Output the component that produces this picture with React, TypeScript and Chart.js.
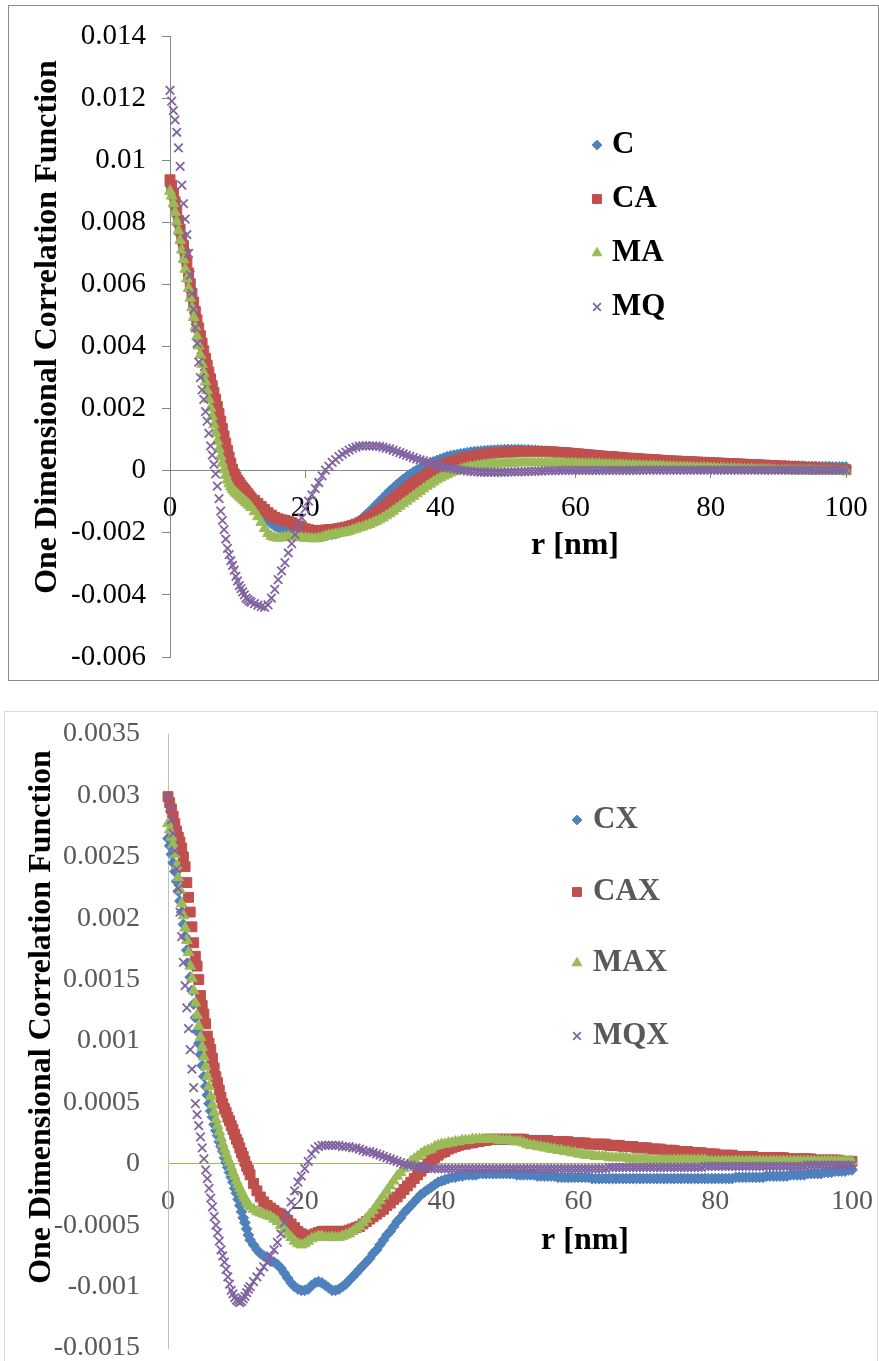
import React, { useEffect, useRef } from 'react';
import { Chart, registerables, PointElement } from 'chart.js';

Chart.register(...registerables);

const SERIF = '"Liberation Serif", "Times New Roman", Times, serif';

// r [nm] sampling positions (shared by every series)
const R = [
  0, .25, .5, .75, 1, 1.25, 1.5, 1.75, 2, 2.25,
  2.5, 2.75, 3, 3.25, 3.5, 3.75, 4, 4.25, 4.5, 4.75,
  5, 5.25, 5.5, 5.75, 6, 6.25, 6.5, 6.75, 7, 7.25,
  7.5, 7.75, 8, 8.25, 8.5, 8.75, 9, 9.25, 9.5, 9.75,
  10, 10.25, 10.5, 10.75, 11, 11.25, 11.5, 11.75, 12,
  12.5, 13, 13.5, 14, 14.5, 15, 15.5, 16, 16.5, 17,
  17.5, 18, 18.5, 19, 19.5, 20, 20.5, 21, 21.5, 22,
  22.5, 23, 23.5, 24, 24.5, 25, 25.5, 26, 26.5, 27,
  27.5, 28, 28.5, 29, 29.5, 30, 30.5, 31, 31.5, 32,
  32.5, 33, 33.5, 34, 34.5, 35, 35.5, 36, 36.5, 37,
  37.5, 38, 38.5, 39, 39.5, 40, 40.5, 41, 41.5, 42,
  42.5, 43, 43.5, 44, 44.5, 45, 45.5, 46, 46.5, 47,
  47.5, 48, 48.5, 49, 49.5, 50, 50.5, 51, 51.5, 52,
  52.5, 53, 53.5, 54, 54.5, 55, 55.5, 56, 56.5, 57,
  57.5, 58, 58.5, 59, 59.5, 60, 60.5, 61, 61.5, 62,
  62.5, 63, 63.5, 64, 64.5, 65, 65.5, 66, 66.5, 67,
  67.5, 68, 68.5, 69, 69.5, 70, 70.5, 71, 71.5, 72,
  72.5, 73, 73.5, 74, 74.5, 75, 75.5, 76, 76.5, 77,
  77.5, 78, 78.5, 79, 79.5, 80, 80.5, 81, 81.5, 82,
  82.5, 83, 83.5, 84, 84.5, 85, 85.5, 86, 86.5, 87,
  87.5, 88, 88.5, 89, 89.5, 90, 90.5, 91, 91.5, 92,
  92.5, 93, 93.5, 94, 94.5, 95, 95.5, 96, 96.5, 97,
  97.5, 98, 98.5, 99, 99.5, 100,
];

// ---------- top chart series ----------
const topC = [
  .00918, .00903, .00877, .00849, .00821, .0079, .0076, .00732, .00703, .00674,
  .00645, .00612, .00579, .0055, .0052, .00486, .00458, .00431, .00404, .00377,
  .0035, .00324, .00299, .00274, .00249, .00225, .002, .00176, .00151, .00127,
  .00103, .0008, .00058, .0004, .00024, .0001, -.00003, -.00014, -.00024, -.00033,
  -.00041, -.00049, -.00056, -.00063, -.0007, -.00077, -.00084, -.00091, -.00098,
  -.00111, -.00124, -.00137, -.00149, -.0016, -.0017, -.00178, -.00184, -.00188, -.00191,
  -.00193, -.00194, -.00195, -.00196, -.00198, -.002, -.00202, -.00204, -.00205, -.00206,
  -.00206, -.00206, -.00206, -.00205, -.00203, -.002, -.00196, -.00191, -.00185, -.00178,
  -.0017, -.00161, -.00152, -.00142, -.00132, -.00121, -.0011, -.00099, -.00088, -.00077,
  -.00066, -.00056, -.00046, -.00037, -.00028, -.0002, -.00012, -.00005, .00002, .00008,
  .00014, .00019, .00024, .00029, .00033, .00037, .00041, .00045, .00048, .0005,
  .00052, .00054, .00056, .00058, .0006, .00061, .00062, .00063, .00064, .00065,
  .00066, .00066, .00067, .00067, .00068, .00068, .00068, .00068, .00068, .00068,
  .00067, .00067, .00066, .00066, .00065, .00064, .00063, .00062, .00061, .00059,
  .00058, .00056, .00054, .00052, .0005, .00048, .00046, .00044, .00043, .00041,
  .0004, .00039, .00038, .00037, .00036, .00035, .00035, .00034, .00034, .00033,
  .00033, .00032, .00031, .00031, .0003, .0003, .00029, .00029, .00028, .00028,
  .00027, .00027, .00027, .00026, .00026, .00026, .00025, .00025, .00025, .00024,
  .00024, .00024, .00023, .00023, .00023, .00022, .00022, .00022, .00021, .00021,
  .00021, .0002, .0002, .0002, .0002, .00019, .00019, .00019, .00018, .00018,
  .00018, .00017, .00017, .00017, .00017, .00016, .00016, .00016, .00016, .00015,
  .00015, .00015, .00015, .00014, .00014, .00014, .00014, .00013, .00013, .00013,
  .00013, .00012, .00012, .00012, .00012, .00012,
];
const topCA = [
  .00937, .0092, .00893, .00866, .00838, .00806, .00778, .00752, .00725, .00698,
  .00671, .00637, .00602, .00572, .00543, .00513, .00486, .0046, .00435, .00411,
  .00386, .00362, .0034, .00318, .00296, .00274, .00252, .0023, .00207, .00184,
  .0016, .00136, .00112, .00089, .00066, .00044, .00024, .00005, -.0001, -.0002,
  -.0003, -.00038, -.00046, -.00054, -.0006, -.00067, -.00074, -.00081, -.00088,
  -.00095, -.00105, -.00115, -.00125, -.00135, -.00143, -.0015, -.00155, -.00158, -.0016,
  -.00163, -.00167, -.00172, -.00178, -.00183, -.00187, -.0019, -.00192, -.00193, -.00193,
  -.00192, -.00191, -.0019, -.0019, -.00188, -.00186, -.00184, -.00182, -.00179, -.00176,
  -.00172, -.00168, -.00163, -.00157, -.00151, -.00144, -.00136, -.00128, -.0012, -.00111,
  -.00102, -.00093, -.00084, -.00075, -.00067, -.00058, -.00049, -.00041, -.00034, -.00028,
  -.0002, -.00013, -.00006, .00001, .00007, .00013, .00018, .00023, .00027, .00031,
  .00034, .00037, .0004, .00042, .00045, .00047, .00049, .00051, .00053, .00054,
  .00056, .00057, .00058, .00059, .00059, .0006, .0006, .00061, .00061, .00062,
  .00062, .00062, .00062, .00062, .00062, .00062, .00062, .00061, .00061, .0006,
  .00059, .00058, .00058, .00057, .00056, .00055, .00054, .00053, .00052, .00051,
  .0005, .00049, .00048, .00047, .00046, .00045, .00045, .00044, .00043, .00042,
  .00041, .0004, .0004, .00039, .00038, .00037, .00037, .00036, .00036, .00035,
  .00034, .00033, .00032, .00032, .00031, .00031, .0003, .0003, .00029, .00029,
  .00028, .00028, .00027, .00027, .00026, .00026, .00025, .00025, .00024, .00024,
  .00023, .00023, .00022, .00022, .00021, .00021, .0002, .0002, .00019, .00019,
  .00018, .00018, .00017, .00016, .00016, .00015, .00015, .00014, .00014, .00013,
  .00012, .00012, .00011, .00011, .0001, .0001, .00009, .00008, .00008, .00007,
  .00006, .00006, .00005, .00004, .00004, .00003,
];
const topMA = [
  .009, .00885, .0086, .00832, .00803, .00773, .00742, .00711, .0068, .00649,
  .00618, .00587, .00556, .00525, .00494, .00463, .00432, .00402, .00372, .00343,
  .00314, .00286, .00258, .0023, .00202, .00175, .00148, .00121, .00095, .0007,
  .00046, .00024, .00003, -.00015, -.0003, -.00042, -.00052, -.0006, -.00066, -.00072,
  -.00077, -.00082, -.00087, -.00092, -.00097, -.00102, -.00107, -.00112, -.00118,
  -.00132, -.00148, -.00166, -.00186, -.00202, -.00211, -.00215, -.00217, -.00216, -.00214,
  -.00213, -.00213, -.00214, -.00215, -.00216, -.00217, -.00218, -.00219, -.00219, -.00218,
  -.00215, -.00211, -.00208, -.00206, -.00204, -.00202, -.002, -.00198, -.00195, -.00191,
  -.00188, -.00184, -.00181, -.00177, -.00173, -.00168, -.00163, -.00158, -.00152, -.00145,
  -.00138, -.0013, -.00122, -.00114, -.00106, -.00098, -.0009, -.00082, -.00074, -.00066,
  -.00058, -.0005, -.00043, -.00036, -.00029, -.00023, -.00017, -.00012, -.00007, -.00003,
  .00001, .00004, .00007, .0001, .00012, .00014, .00016, .00017, .00019, .0002,
  .00021, .00022, .00022, .00023, .00023, .00024, .00024, .00025, .00025, .00026,
  .00026, .00026, .00026, .00026, .00026, .00026, .00026, .00025, .00025, .00025,
  .00025, .00024, .00024, .00024, .00024, .00023, .00023, .00022, .00022, .00022,
  .00022, .00021, .00021, .0002, .0002, .0002, .00019, .00019, .00019, .00018,
  .00018, .00017, .00017, .00016, .00016, .00015, .00015, .00015, .00015, .00014,
  .00014, .00013, .00013, .00012, .00012, .00011, .00011, .00011, .00011, .0001,
  .0001, .00009, .00009, .00009, .00009, .00008, .00008, .00007, .00007, .00006,
  .00006, .00006, .00006, .00005, .00005, .00004, .00004, .00004, .00004, .00003,
  .00003, .00003, .00003, .00002, .00002, .00001, .00001, .00001, .00001, 0,
  0, 0, 0, 0, 0, -.00001, -.00001, -.00001, -.00001, -.00001,
  -.00001, -.00002, -.00002, -.00002, -.00002, -.00002,
];
const topMQ = [
  .01225, .0119, .0116, .0113, .0109, .0104, .0098, .0092, .0086, .0081,
  .0076, .007, .0063, .0057, .0052, .0046, .0041, .0035, .003, .0026,
  .0023, .0019, .0016, .0012, .0008, .0005, .0002, -.0001, -.0005, -.0009,
  -.0013, -.0016, -.0019, -.0022, -.0025, -.0027, -.0029, -.00305, -.0032, -.0034,
  -.00355, -.0037, -.0038, -.0039, -.004, -.0041, -.00415, -.0042, -.00423,
  -.00428, -.00433, -.00438, -.0044, -.00432, -.0041, -.00382, -.00351, -.00323, -.00296,
  -.00265, -.00235, -.00206, -.0018, -.00152, -.00122, -.00098, -.00078, -.00058, -.00038,
  -.00017, .00002, .00015, .00027, .00036, .00045, .00053, .0006, .00066, .00072,
  .00076, .00079, .0008, .00081, .0008, .0008, .00079, .00078, .00076, .00073,
  .0007, .00066, .00062, .00058, .00054, .0005, .00046, .00042, .00038, .00035,
  .00032, .00029, .00025, .00022, .00018, .00015, .00012, .0001, .00008, .00006,
  .00004, .00002, .00001, -.00001, -.00002, -.00003, -.00004, -.00005, -.00005, -.00005,
  -.00005, -.00005, -.00005, -.00005, -.00005, -.00004, -.00004, -.00004, -.00004, -.00003,
  -.00003, -.00002, -.00002, -.00002, -.00001, -.00001, 0, 0, 0, 0,
  .00001, .00001, .00001, .00001, .00001, .00001, .00001, .00001, .00001, .00001,
  .00001, .00001, .00001, .00001, .00001, .00001, .00001, .00001, .00001, .00001,
  .00001, .00001, .00001, .00001, .00002, .00002, .00002, .00002, .00002, .00002,
  .00002, .00002, .00002, .00002, .00002, .00002, .00002, .00002, .00002, .00002,
  .00002, .00002, .00002, .00002, .00002, .00002, .00002, .00002, .00002, .00002,
  .00002, .00002, .00002, .00002, .00002, .00002, .00002, .00002, .00002, .00002,
  .00002, .00002, .00002, .00002, .00002, .00002, .00002, .00002, .00002, .00002,
  .00002, .00002, .00002, .00002, .00002, .00002, .00002, .00002, .00002, .00002,
  .00002, .00002, .00002, .00002, .00002, .00002,
];

// ---------- bottom chart series ----------
const botCX = [
  .00265, .00259, .00252, .00245, .00238, .0023, .00222, .00214, .00205, .00195,
  .00185, .00174, .00163, .00152, .00141, .0013, .00119, .00108, .00098, .00089,
  .0008, .00071, .00063, .00056, .00049, .00043, .00038, .00032, .00027, .00023,
  .00018, .00014, .0001, .00005, .00001, -.00003, -.00007, -.00011, -.00015, -.0002,
  -.00024, -.00029, -.00034, -.00039, -.00044, -.00048, -.00053, -.00058, -.00062,
  -.00066, -.0007, -.00073, -.00075, -.00077, -.00079, -.0008, -.00082, -.00085, -.00089,
  -.00093, -.00097, -.001, -.00102, -.00103, -.00103, -.00102, -.00099, -.00097, -.00096,
  -.00097, -.00099, -.00101, -.00103, -.00103, -.00102, -.001, -.00098, -.00095, -.00092,
  -.00089, -.00086, -.00083, -.0008, -.00077, -.00073, -.0007, -.00066, -.00062, -.00058,
  -.00055, -.00051, -.00047, -.00044, -.0004, -.00037, -.00034, -.00031, -.00028, -.00025,
  -.00023, -.00021, -.00019, -.00017, -.00015, -.00014, -.00013, -.00012, -.00011, -.00011,
  -.0001, -.0001, -.00009, -.00009, -.00009, -.00009, -.00008, -.00008, -.00008, -.00008,
  -.00008, -.00008, -.00008, -.00008, -.00008, -.00008, -.00008, -.00009, -.00009, -.00009,
  -.00009, -.00009, -.00009, -.0001, -.0001, -.0001, -.0001, -.0001, -.0001, -.00011,
  -.00011, -.00011, -.00011, -.00011, -.00011, -.00011, -.00011, -.00011, -.00011, -.00012,
  -.00012, -.00012, -.00012, -.00012, -.00012, -.00012, -.00012, -.00012, -.00012, -.00012,
  -.00012, -.00012, -.00012, -.00012, -.00012, -.00012, -.00012, -.00012, -.00012, -.00012,
  -.00012, -.00012, -.00012, -.00012, -.00012, -.00012, -.00012, -.00012, -.00012, -.00012,
  -.00012, -.00012, -.00012, -.00012, -.00012, -.00012, -.00012, -.00012, -.00012, -.00012,
  -.00012, -.00011, -.00011, -.00011, -.00011, -.00011, -.00011, -.00011, -.00011, -.00011,
  -.0001, -.0001, -.0001, -.0001, -.0001, -.0001, -.0001, -.00009, -.00009, -.00009,
  -.00009, -.00009, -.00008, -.00008, -.00008, -.00008, -.00008, -.00007, -.00007, -.00007,
  -.00006, -.00006, -.00006, -.00006, -.00005, -.00005,
];
const botCAX = [
  .00299, .00294, .00289, .00283, .00277, .00271, .00266, .00262, .00257, .0025,
  .00242, .00229, .00217, .00205, .00193, .0018, .00169, .00161, .0015, .00137,
  .00129, .00122, .00114, .00104, .00098, .00093, .00086, .00078, .00071, .00066,
  .0006, .00054, .00049, .00045, .00042, .00038, .00035, .00031, .00028, .00024,
  .0002, .00017, .00013, .00009, .00006, .00002, -.00002, -.00005, -.00009,
  -.00016, -.00022, -.00027, -.00031, -.00034, -.00036, -.00038, -.0004, -.00041, -.00043,
  -.00046, -.00049, -.00052, -.00055, -.00057, -.00059, -.00059, -.00058, -.00057, -.00056,
  -.00055, -.00055, -.00055, -.00055, -.00055, -.00055, -.00055, -.00055, -.00054, -.00053,
  -.00052, -.00051, -.00049, -.00047, -.00045, -.00043, -.00041, -.00039, -.00037, -.00034,
  -.00032, -.00029, -.00027, -.00024, -.00021, -.00018, -.00015, -.00012, -.00009, -.00006,
  -.00003, 0, .00003, .00005, .00007, .00009, .0001, .00012, .00013, .00014,
  .00015, .00016, .00016, .00017, .00017, .00018, .00018, .00019, .00019, .0002,
  .0002, .0002, .0002, .0002, .0002, .0002, .0002, .0002, .0002, .0002,
  .00019, .00019, .00019, .00019, .00019, .00019, .00019, .00018, .00018, .00018,
  .00018, .00018, .00018, .00017, .00017, .00017, .00017, .00017, .00016, .00016,
  .00016, .00016, .00016, .00016, .00015, .00015, .00015, .00015, .00014, .00014,
  .00014, .00014, .00013, .00013, .00013, .00013, .00012, .00012, .00012, .00012,
  .00011, .00011, .00011, .00011, .0001, .0001, .0001, .0001, .00009, .00009,
  .00009, .00009, .00008, .00008, .00008, .00008, .00007, .00007, .00007, .00007,
  .00007, .00006, .00006, .00006, .00006, .00006, .00006, .00005, .00005, .00005,
  .00005, .00005, .00005, .00005, .00005, .00005, .00004, .00004, .00004, .00004,
  .00004, .00004, .00004, .00004, .00003, .00003, .00003, .00003, .00003, .00003,
  .00003, .00003, .00002, .00002, .00002, .00002,
];
const botMAX = [
  .00277, .00272, .00266, .0026, .00252, .00243, .00233, .00223, .00212, .00202,
  .00192, .00182, .00172, .00161, .00151, .00141, .00131, .00121, .00112, .00103,
  .00095, .00087, .00079, .00071, .00063, .00055, .00048, .00042, .00036, .00031,
  .00026, .00021, .00016, .00012, .00008, .00004, .00001, -.00003, -.00007, -.0001,
  -.00014, -.00017, -.0002, -.00023, -.00026, -.00028, -.00031, -.00033, -.00035,
  -.00037, -.00039, -.0004, -.00041, -.00042, -.00043, -.00045, -.00047, -.0005, -.00053,
  -.00057, -.0006, -.00063, -.00065, -.00066, -.00065, -.00063, -.00061, -.0006, -.00059,
  -.00059, -.0006, -.0006, -.0006, -.0006, -.0006, -.00059, -.00058, -.00057, -.00055,
  -.00053, -.00051, -.00048, -.00045, -.00041, -.00038, -.00034, -.0003, -.00026, -.00022,
  -.00018, -.00014, -.0001, -.00007, -.00004, -.00001, .00002, .00004, .00006, .00008,
  .0001, .00011, .00012, .00014, .00015, .00016, .00016, .00017, .00017, .00018,
  .00018, .00019, .00019, .00019, .0002, .0002, .0002, .0002, .0002, .0002,
  .0002, .0002, .00019, .00019, .00019, .00019, .00018, .00018, .00018, .00017,
  .00016, .00015, .00015, .00014, .00014, .00013, .00013, .00012, .00012, .00011,
  .00011, .0001, .0001, .00009, .00009, .00008, .00008, .00007, .00007, .00007,
  .00006, .00006, .00006, .00006, .00005, .00005, .00005, .00005, .00005, .00005,
  .00004, .00004, .00004, .00004, .00004, .00004, .00003, .00003, .00003, .00003,
  .00003, .00003, .00003, .00003, .00003, .00003, .00003, .00003, .00003, .00003,
  .00003, .00003, .00003, .00002, .00002, .00002, .00002, .00002, .00002, .00002,
  .00002, .00002, .00002, .00002, .00002, .00002, .00002, .00002, .00002, .00002,
  .00002, .00002, .00002, .00002, .00002, .00002, .00002, .00002, .00002, .00002,
  .00002, .00002, .00002, .00002, .00002, .00002, .00002, .00002, .00002, .00002,
  .00002, .00002, .00002, .00002, .00002, .00002,
];
const botMQX = [
  .00299, .0029, .0028, .00269, .00255, .0024, .00224, .00205, .00185, .00164,
  .00145, .00127, .0011, .00093, .00077, .00062, .00049, .0004, .00031, .00022,
  .00013, .00004, -.00005, -.00012, -.0002, -.00028, -.00035, -.00043, -.0005, -.00056,
  -.00063, -.0007, -.00075, -.0008, -.00086, -.00092, -.00098, -.00103, -.00106, -.00109,
  -.00111, -.00112, -.00113, -.00112, -.0011, -.00108, -.00105, -.00102, -.001,
  -.00096, -.00092, -.00088, -.00084, -.0008, -.00075, -.0007, -.00064, -.00057, -.00048,
  -.0004, -.00031, -.00022, -.00015, -.0001, -.00004, .00002, .00008, .00012, .00014,
  .00015, .00015, .00015, .00015, .00015, .00015, .00014, .00014, .00014, .00013,
  .00013, .00012, .00011, .0001, .0001, .00009, .00008, .00007, .00006, .00005,
  .00004, .00003, .00002, .00001, 0, -.00001, -.00001, -.00002, -.00002, -.00003,
  -.00003, -.00003, -.00004, -.00004, -.00004, -.00004, -.00004, -.00004, -.00004, -.00004,
  -.00004, -.00004, -.00004, -.00004, -.00004, -.00004, -.00004, -.00004, -.00004, -.00004,
  -.00004, -.00004, -.00004, -.00004, -.00004, -.00004, -.00004, -.00004, -.00004, -.00004,
  -.00004, -.00004, -.00004, -.00004, -.00004, -.00004, -.00004, -.00004, -.00004, -.00004,
  -.00004, -.00004, -.00004, -.00004, -.00004, -.00004, -.00004, -.00004, -.00004, -.00004,
  -.00004, -.00004, -.00004, -.00004, -.00003, -.00003, -.00003, -.00003, -.00003, -.00003,
  -.00003, -.00003, -.00003, -.00003, -.00003, -.00003, -.00003, -.00003, -.00003, -.00003,
  -.00003, -.00003, -.00003, -.00003, -.00003, -.00003, -.00003, -.00003, -.00003, -.00003,
  -.00003, -.00003, -.00002, -.00002, -.00002, -.00002, -.00002, -.00002, -.00002, -.00002,
  -.00002, -.00002, -.00002, -.00002, -.00002, -.00002, -.00002, -.00002, -.00002, -.00002,
  -.00002, -.00002, -.00002, -.00002, -.00002, -.00002, -.00002, -.00002, -.00002, -.00002,
  -.00002, -.00002, -.00001, -.00001, -.00001, -.00001, -.00001, -.00001, -.00001, -.00001,
  -.00001, -.00001, -.00001, -.00001, -.00001, -.00001,
];

// ---------- ticks & labels ----------
const xTicks = [0, 20, 40, 60, 80, 100];
const xLabels = ['0', '20', '40', '60', '80', '100'];
const topYTicks = [-0.006, -0.004, -0.002, 0, 0.002, 0.004, 0.006, 0.008, 0.01, 0.012, 0.014];
const topYLabels = ['-0.006', '-0.004', '-0.002', '0', '0.002', '0.004', '0.006', '0.008', '0.01', '0.012', '0.014'];
const botYTicks = [-0.0015, -0.001, -0.0005, 0, 0.0005, 0.001, 0.0015, 0.002, 0.0025, 0.003, 0.0035];
const botYLabels = ['-0.0015', '-0.001', '-0.0005', '0', '0.0005', '0.001', '0.0015', '0.002', '0.0025', '0.003', '0.0035'];

const topNames = ['C', 'CA', 'MA', 'MQ'];
const botNames = ['CX', 'CAX', 'MAX', 'MQX'];
const yTitle = 'One Dimensional Correlation Function';
const xTitle = 'r [nm]';

const COLORS = ['#4F81BD', '#C0504D', '#9BBB59', '#8064A2'];
const MARKERS = [
  { pointStyle: 'rectRot', radius: 5.4, borderWidth: 1 },
  { pointStyle: 'rect', radius: 7, borderWidth: 1 },
  { pointStyle: 'triangle', radius: 6.2, borderWidth: 1 },
  { pointStyle: 'crossRot', radius: 6, borderWidth: 1.8 },
];

type Spec = {
  left: number; top: number; width: number; height: number;
  names: string[]; series: number[][];
  yTicks: number[]; yLabels: string[];
  padding: { left: number; top: number; right: number; bottom: number };
  yAxisWidth: number;
  tickColor: string; tickSize: number; xTickPad: number; yTickPad: number;
  xAxisColor: string; yAxisColor: string;
  xGrid: any; yGrid: any;
  frame: { color: string; w: number; h: number };
  titles: { text: string; x: number; y: number; rotate: boolean; color: string; font: string }[];
  legend: { markerX: number; textX: number; ys: number[]; color: string; font: string };
};

const TITLE_FONT = `bold 32px ${SERIF}`;
const LEGEND_FONT = `bold 31px ${SERIF}`;

const TOP: Spec = {
  left: 8, top: 5, width: 871, height: 676,
  names: topNames, series: [topC, topCA, topMA, topMQ],
  yTicks: topYTicks, yLabels: topYLabels,
  padding: { left: 0, top: 31, right: 33, bottom: 24 },
  yAxisWidth: 162,
  tickColor: '#000000', tickSize: 29, xTickPad: 13, yTickPad: 16,
  xAxisColor: '#868686', yAxisColor: '#868686',
  xGrid: { display: true, drawOnChartArea: false, drawTicks: true, tickLength: 7, color: '#868686', lineWidth: 1 },
  yGrid: { display: true, drawOnChartArea: false, drawTicks: true, tickLength: 8, color: '#868686', lineWidth: 1 },
  frame: { color: '#8a8a8a', w: 870, h: 675 },
  titles: [
    { text: yTitle, x: 40, y: 322, rotate: true, color: '#000000', font: TITLE_FONT },
    { text: xTitle, x: 567, y: 541, rotate: false, color: '#000000', font: TITLE_FONT },
  ],
  legend: { markerX: 589, textX: 604, ys: [140, 194, 248, 302], color: '#000000', font: LEGEND_FONT },
};

const BOTTOM: Spec = {
  left: 4, top: 711, width: 875, height: 650,
  names: botNames, series: [botCX, botCAX, botMAX, botMQX],
  yTicks: botYTicks, yLabels: botYLabels,
  padding: { left: 0, top: 23, right: 27, bottom: 13 },
  yAxisWidth: 164,
  tickColor: '#595959', tickSize: 28, xTickPad: 21, yTickPad: 28,
  xAxisColor: '#9BBB59', yAxisColor: '#BFBFBF',
  xGrid: { display: false, drawTicks: false },
  yGrid: { display: false, drawTicks: false },
  frame: { color: '#D9D9D9', w: 873, h: 700 },
  titles: [
    { text: yTitle, x: 38, y: 306, rotate: true, color: '#000000', font: TITLE_FONT },
    { text: xTitle, x: 581, y: 530, rotate: false, color: '#000000', font: TITLE_FONT },
  ],
  legend: { markerX: 573, textX: 589, ys: [109, 181, 252, 325], color: '#595959', font: LEGEND_FONT },
};

function decorPlugin(s: Spec) {
  return {
    id: 'decor',
    beforeDraw(chart: any) {
      const ctx = chart.ctx;
      ctx.save();
      ctx.strokeStyle = s.frame.color;
      ctx.lineWidth = 1;
      ctx.strokeRect(0.5, 0.5, s.frame.w, s.frame.h);
      ctx.restore();
    },
    afterDraw(chart: any) {
      const ctx = chart.ctx;
      for (const t of s.titles) {
        ctx.save();
        ctx.translate(t.x, t.y);
        if (t.rotate) ctx.rotate(-Math.PI / 2);
        ctx.font = t.font;
        ctx.fillStyle = t.color;
        ctx.textAlign = 'center';
        ctx.textBaseline = 'middle';
        ctx.fillText(t.text, 0, 0);
        ctx.restore();
      }
      chart.data.datasets.forEach((ds: any, i: number) => {
        const y = s.legend.ys[i];
        ctx.save();
        const p: any = new (PointElement as any)({
          x: s.legend.markerX,
          y,
          options: {
            pointStyle: MARKERS[i].pointStyle,
            radius: MARKERS[i].radius * 0.9,
            rotation: 0,
            borderWidth: MARKERS[i].borderWidth,
            borderColor: COLORS[i],
            backgroundColor: COLORS[i],
          },
        });
        p.draw(ctx);
        ctx.font = s.legend.font;
        ctx.fillStyle = s.legend.color;
        ctx.textAlign = 'left';
        ctx.textBaseline = 'middle';
        ctx.fillText(ds.label, s.legend.textX, y);
        ctx.restore();
      });
    },
  };
}

function buildConfig(s: Spec): any {
  const datasets = s.names.map((name, i) => ({
    label: name,
    data: R.map((x, k) => ({ x, y: s.series[i][k] })),
    showLine: false,
    pointStyle: MARKERS[i].pointStyle,
    pointRadius: MARKERS[i].radius,
    pointHoverRadius: MARKERS[i].radius,
    pointBorderWidth: MARKERS[i].borderWidth,
    pointBackgroundColor: COLORS[i],
    pointBorderColor: COLORS[i],
    order: s.names.length - i,
    clip: false,
  }));
  const tickFont = { family: SERIF, size: s.tickSize, weight: 'normal' };
  return {
    type: 'scatter',
    data: { datasets },
    options: {
      responsive: false,
      animation: false,
      events: [],
      layout: { padding: s.padding },
      plugins: { legend: { display: false }, tooltip: { enabled: false }, title: { display: false } },
      scales: {
        x: {
          type: 'linear',
          min: 0,
          max: 100,
          position: { y: 0 },
          afterBuildTicks: (sc: any) => { sc.ticks = xTicks.map((v) => ({ value: v })); },
          afterFit: (sc: any) => { sc.paddingLeft = 0; sc.paddingRight = 0; },
          ticks: {
            callback: (_v: any, i: number) => xLabels[i],
            color: s.tickColor,
            font: tickFont,
            padding: s.xTickPad,
            maxRotation: 0,
            minRotation: 0,
            autoSkip: false,
          },
          grid: s.xGrid,
          border: { display: true, color: s.xAxisColor, width: 1 },
        },
        y: {
          type: 'linear',
          position: 'left',
          min: s.yTicks[0],
          max: s.yTicks[s.yTicks.length - 1],
          afterBuildTicks: (sc: any) => { sc.ticks = s.yTicks.map((v) => ({ value: v })); },
          afterFit: (sc: any) => { sc.width = s.yAxisWidth; sc.paddingTop = 0; sc.paddingBottom = 0; },
          ticks: {
            callback: (_v: any, i: number) => s.yLabels[i],
            color: s.tickColor,
            font: tickFont,
            padding: s.yTickPad,
            autoSkip: false,
          },
          grid: s.yGrid,
          border: { display: true, color: s.yAxisColor, width: 1 },
        },
      },
    },
    plugins: [decorPlugin(s)],
  };
}

function ChartPanel({ spec }: { spec: Spec }) {
  const ref = useRef<HTMLCanvasElement | null>(null);
  useEffect(() => {
    if (!ref.current) return;
    const chart = new Chart(ref.current, buildConfig(spec));
    return () => chart.destroy();
  }, [spec]);
  return (
    <canvas
      ref={ref}
      width={spec.width}
      height={spec.height}
      style={{ position: 'absolute', left: spec.left, top: spec.top, width: spec.width, height: spec.height }}
    />
  );
}

export default function App() {
  return (
    <div>
      <ChartPanel spec={TOP} />
      <ChartPanel spec={BOTTOM} />
    </div>
  );
}
